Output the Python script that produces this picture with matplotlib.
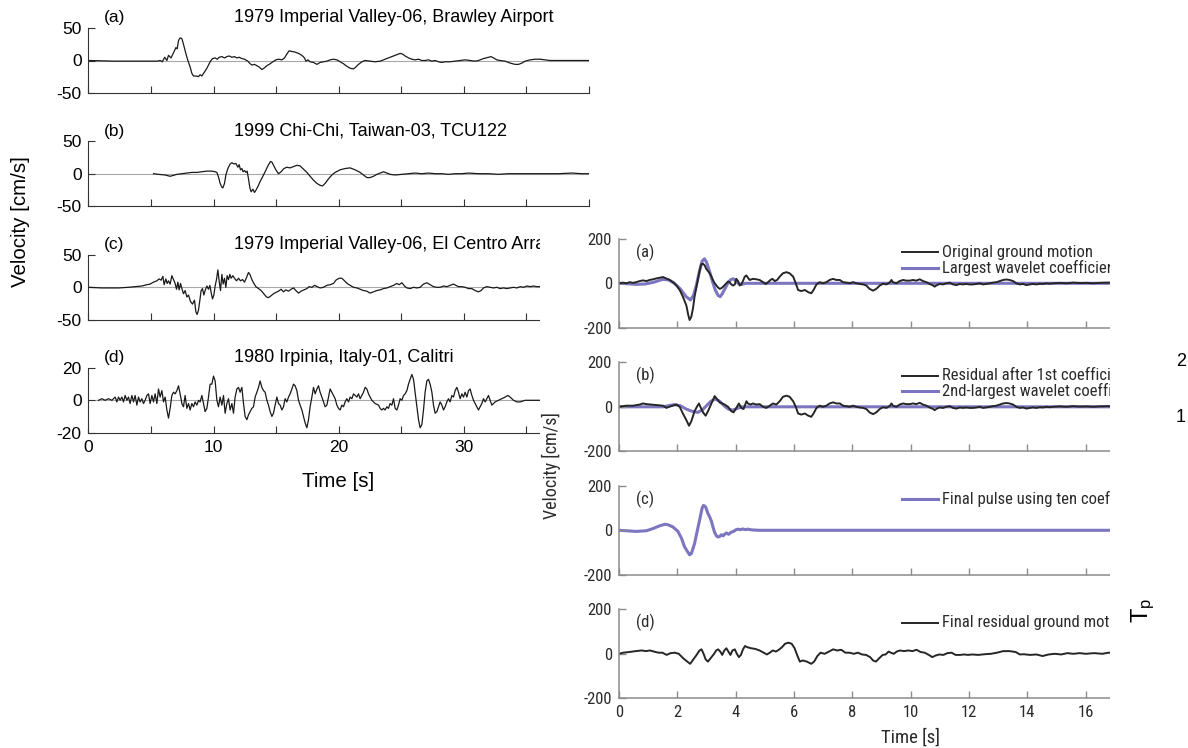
import matplotlib
matplotlib.use("Agg")
import matplotlib.pyplot as plt
from matplotlib import font_manager
from matplotlib.patches import Rectangle
from matplotlib.lines import Line2D

# ---------------------------------------------------------------- data
# Left figure: velocity records (time [s], velocity [cm/s])
brawley_t = [0, 2, 4, 5.5, 5.73, 5.9, 6.1, 6.27, 6.4, 6.6, 6.7, 6.9, 6.99, 7.1, 7.2, 7.33, 7.47, 7.6, 7.8, 7.95,
             8.13, 8.27, 8.4, 8.6, 8.8, 8.93, 9.07, 9.2, 9.47, 9.73, 9.92, 10.13, 10.3, 10.45, 10.67, 10.88, 11.07,
             11.25, 11.47, 11.68, 11.87, 12.05, 12.27, 12.48, 12.75, 12.93, 13.07, 13.28, 13.47, 13.65, 13.87, 14.03,
             14.27, 14.53, 14.75, 14.99, 15.2, 15.47, 15.68, 15.87, 16.05, 16.27, 16.53, 16.8, 17.07, 17.28, 17.39,
             17.55, 17.73, 18, 18.27, 18.53, 18.8, 19.07, 19.33, 19.6, 19.87, 20.13, 20.4, 20.67, 20.93, 21.2, 21.39,
             21.6, 21.87, 22.13, 22.53, 22.93, 23.33, 23.73, 24.13, 24.53, 24.93, 25.12, 25.33, 25.6, 25.87, 26.13,
             26.4, 26.67, 26.93, 27.2, 27.47, 27.73, 28, 28.27, 28.53, 28.93, 29.33, 29.73, 30.13, 30.53, 30.93, 31.2,
             31.6, 32, 32.2, 32.4, 32.67, 32.93, 33.33, 33.73, 34.13, 34.4, 34.67, 34.93, 35.33, 35.73, 36.13, 36.53,
             36.93, 37.33, 40]
brawley_v = [0, -1, -1, -1, 0, -2, 5, 0, 8, 4, 8, 16, 20, 18, 31, 35, 34, 25, 10, 0,
             -10, -20, -24, -24, -25, -22, -24, -20, -12, -2, 3, 4, 2, 5, 6, 4, 6,
             7, 5, 6, 4, 5, 3, 2, -1, -5, -7, -6, -8, -10, -14, -12,
             -8, -5, -2, 1, 2, 1, 4, 10, 15, 14, 13, 11, 8, 4, -1,
             1, -2, -3, -6, -3, -2, -1, 1, 2, 1, -2, -5, -9, -12, -13, -10,
             -6, -2, 0, -1, -2, -1, 2, 5, 8, 11, 10, 7, 4, 2, 1,
             2, 0, 0, 1, -1, 0, -2, -3, -2, -2, -1, 0, 1, 0, -1, 0,
             3, 5, 6, 4, 1, 0, -1, -4, -6, -6, -4, -1, 1, 2, 2, 1,
             0, 0, 0]

chichi_t = [5.2, 5.6, 6.13, 6.53, 6.72, 7.07, 7.47, 7.87, 8.27, 8.67, 9.07, 9.47, 9.87, 10.13, 10.27, 10.4, 10.53,
            10.67, 10.75, 10.88, 10.99, 11.15, 11.33, 11.47, 11.65, 11.79, 11.95, 12.05, 12.16, 12.27, 12.37, 12.48,
            12.59, 12.69, 12.8, 12.91, 13.01, 13.15, 13.28, 13.41, 13.55, 13.73, 13.92, 14.13, 14.35, 14.56, 14.67,
            14.83, 14.99, 15.2, 15.41, 15.63, 15.87, 16.13, 16.4, 16.67, 16.93, 17.2, 17.47, 17.73, 18, 18.27, 18.53,
            18.72, 18.93, 19.2, 19.47, 19.73, 20.13, 20.53, 20.93, 21.33, 21.73, 22, 22.27, 22.53, 22.8, 23.07, 23.33,
            23.6, 23.87, 24.13, 24.53, 25.07, 25.6, 26.13, 26.67, 27.2, 27.73, 28.27, 28.8, 29.33, 29.87, 30.4, 31.2,
            32, 32.8, 33.6, 34.4, 35.47, 36.53, 37.6, 38.67, 39.47, 40]
chichi_v = [0, -1, -2, -4, -3, -1, 0, 1, 2, 2, 3, 4, 4, 3, 2, -5, -15,
            -21, -22, -15, -2, 8, 15, 17, 15, 16, 10, 14, 6, 8, 3, 5,
            2, 4, -8, -22, -28, -24, -29, -25, -20, -12, -5, 3, 12, 19, 18,
            12, 6, 0, 3, 8, 10, 9, 11, 13, 12, 7, 2, -4, -10, -15, -18,
            -19, -15, -8, -2, 2, 6, 8, 9, 6, 2, -2, -6, -6, -4, -1, 1,
            3, 1, -1, -2, -1, 0, 1, 0, 1, 0, 0, -1, 0, 0, 1, 0,
            0, -1, 0, 0, 0, 0, 0, 1, 0, 0]

elcentro_t = [0, 1.07, 2.4, 3.2, 3.73, 4.27, 4.67, 4.93, 5.2, 5.47, 5.65, 5.81, 5.95, 6.05, 6.19, 6.29, 6.4, 6.53,
              6.67, 6.8, 6.93, 7.04, 7.15, 7.25, 7.36, 7.47, 7.6, 7.73, 7.87, 8, 8.16, 8.32, 8.48, 8.59, 8.69, 8.8,
              8.91, 9.01, 9.12, 9.23, 9.33, 9.47, 9.6, 9.71, 9.81, 9.92, 10.03, 10.13, 10.24, 10.35, 10.45, 10.56,
              10.67, 10.77, 10.88, 10.99, 11.09, 11.2, 11.31, 11.41, 11.55, 11.68, 11.84, 12, 12.16, 12.32, 12.48,
              12.64, 12.8, 12.91, 13.07, 13.23, 13.39, 13.6, 13.81, 14.03, 14.24, 14.4, 14.61, 14.8, 14.99, 15.2,
              15.41, 15.6, 15.79, 16, 16.21, 16.4, 16.59, 16.8, 17.01, 17.23, 17.47, 17.65, 17.87, 18.08, 18.29, 18.53,
              18.8, 19.07, 19.33, 19.6, 19.79, 20.05, 20.27, 20.48, 20.69, 20.93, 21.2, 21.47, 21.73, 22, 22.27, 22.53,
              22.8, 23.07, 23.33, 23.6, 23.87, 24.13, 24.4, 24.67, 24.85, 25.07, 25.28, 25.47, 25.73, 26, 26.27, 26.53,
              26.8, 27.07, 27.33, 27.6, 27.87, 28.13, 28.4, 28.67, 28.93, 29.2, 29.39, 29.6, 29.87, 30.13, 30.4, 30.67,
              30.93, 31.2, 31.41, 31.6, 31.87, 32.13, 32.4, 32.67, 32.93, 33.2, 33.47, 33.73, 34, 34.27, 34.53, 34.8,
              35.07, 35.33, 35.6, 35.87, 36.13, 36.53, 37.5]
elcentro_v = [0, -1, -1, 0, 1, 2, 4, 5, 8, 10, 13, 11, 17, 4, 13, 6, 10, 5,
              18, 12, 6, -3, 8, -4, 6, -2, -10, -5, -15, -12, -22, -26, -20, -38, -42, -35,
              -20, -5, -2, -12, -5, 2, -3, 3, -8, -18, -12, 2, 12, 27, 10, -5,
              20, 5, 14, 0, 18, 12, 20, 14, 18, 14, 10, 14, 10, 12, 8,
              15, 23, 20, 12, 6, 1, -2, -5, -10, -15, -16, -13, -10, -8, -6,
              -3, -7, -4, -6, -3, -1, -5, -9, -6, -4, -2, 1, 0, 3, 1, -1,
              0, 3, 4, 6, 11, 14, 14, 10, 6, 3, 0, -1, -3, -5, -6, -9,
              -7, -5, -4, -2, -1, 1, 3, 6, 4, 7, 2, -1, -2, 0, -1, 0,
              5, 7, 4, 1, 0, 0, 2, 1, 3, 5, 3, 1, 1, 0, -2, -2,
              -5, -7, -5, -1, 1, 0, -1, 0, -2, -1, -2, -1, 0, -1, 1, 0,
              2, 1, 2, 1, 1, 1, 1]

calitri_t = [0.8, 1.07, 1.33, 1.6, 1.87, 2.13, 2.27, 2.4, 2.53, 2.67, 2.8, 2.93, 3.07, 3.2, 3.33, 3.47, 3.6, 3.73,
             3.87, 4, 4.13, 4.27, 4.4, 4.53, 4.67, 4.8, 4.93, 5.07, 5.2, 5.33, 5.47, 5.6, 5.73, 5.87, 6, 6.13, 6.27,
             6.4, 6.53, 6.67, 6.8, 6.93, 7.07, 7.2, 7.33, 7.47, 7.6, 7.73, 7.87, 8, 8.13, 8.27, 8.4, 8.53, 8.67, 8.8,
             8.93, 9.07, 9.2, 9.33, 9.47, 9.6, 9.73, 9.87, 10, 10.13, 10.27, 10.4, 10.53, 10.67, 10.8, 10.93, 11.07,
             11.2, 11.33, 11.47, 11.6, 11.73, 11.87, 12, 12.13, 12.27, 12.4, 12.53, 12.67, 12.8, 12.93, 13.07, 13.2,
             13.33, 13.47, 13.6, 13.73, 13.87, 14, 14.13, 14.27, 14.4, 14.53, 14.67, 14.8, 14.93, 15.07, 15.2, 15.33,
             15.47, 15.6, 15.73, 15.87, 16, 16.13, 16.27, 16.4, 16.53, 16.67, 16.8, 16.93, 17.07, 17.2, 17.33, 17.47,
             17.6, 17.73, 17.87, 18, 18.13, 18.27, 18.4, 18.53, 18.67, 18.8, 18.93, 19.07, 19.2, 19.33, 19.47, 19.6,
             19.73, 19.87, 20, 20.13, 20.27, 20.4, 20.53, 20.67, 20.8, 20.93, 21.07, 21.2, 21.33, 21.47, 21.6, 21.73,
             21.87, 22, 22.13, 22.27, 22.4, 22.53, 22.67, 22.93, 23.2, 23.33, 23.47, 23.6, 23.73, 23.87, 24, 24.13,
             24.27, 24.4, 24.53, 24.67, 24.8, 24.93, 25.07, 25.2, 25.33, 25.47, 25.6, 25.73, 25.87, 26, 26.13, 26.27,
             26.4, 26.53, 26.67, 26.8, 26.93, 27.07, 27.2, 27.33, 27.47, 27.6, 27.73, 27.87, 28, 28.13, 28.27, 28.4,
             28.53, 28.67, 28.8, 28.93, 29.07, 29.2, 29.33, 29.47, 29.6, 29.73, 29.87, 30, 30.13, 30.27, 30.4, 30.53,
             30.67, 30.8, 30.93, 31.07, 31.2, 31.33, 31.47, 31.6, 31.73, 31.87, 32, 32.13, 32.27, 32.4, 32.53, 32.8,
             33.07, 33.33, 33.55, 33.73, 34, 34.27, 34.53, 34.93, 35.47, 36.53, 37.5]
calitri_v = [0, 1, 0, 1, 0, 2, -1, 2, 0, 2, -1, 3, 0, 2, -2, 3, -1, 3,
             -3, 2, -1, 1, -2, 0, 3, 4, -2, 3, -1, 4, -2, 7, 2, 6, -1, 2, -6,
             -11, -5, 3, 5, 4, 6, 9, 4, -2, -4, 3, -5, -2, -6, -2, -4, -1, -3, 0,
             -1, 3, -2, -7, -5, 2, 10, 10, 15, 12, 0, -4, 2, -3, 3, -8, -2,
             1, -6, -2, -8, 2, 7, 8, 5, 8, -2, -10, -12, -9, -7, -5, -4,
             2, 5, 8, 12, 8, 6, 5, 0, -3, -7, -10, -8, -3, 2, -2, -3,
             -6, -4, 1, -1, 2, 4, 7, 10, 9, 6, 0, -3, -6, -10, -14, -17,
             -12, -4, 2, 8, 4, 7, 9, 5, 2, -1, -4, -3, 2, 7, 5, 3,
             1, -3, -5, -6, -3, -4, -1, 1, -1, 2, 1, 4, 3, 2, 4, 1,
             3, 5, 8, 7, 4, 2, 0, -2, -3, -5, -6, -5, -6, -4, -5, -2,
             -3, 1, -5, -6, -3, 1, 0, 3, 4, 6, 10, 13, 16, 13, 5, -4,
             -12, -17, -15, -6, 5, 12, 13, 10, 5, -3, -8, -7, -4, -1, -3, -6,
             -4, -1, 1, -1, 3, 2, 6, 8, 5, 1, 4, 2, 5, 2, 6, 7,
             3, 0, -2, -4, -6, -4, -2, 1, -1, 1, 3, 0, -3, -2, -1, 0,
             1, 2, 3, 2, 0, -1, -1, 0, 0, 0, 0]

# Right figure: wavelet pulse extraction (time [s], velocity [cm/s])
orig_t = [0, 0.14, 0.25, 0.37, 0.48, 0.59, 0.71, 0.82, 0.94, 1.05, 1.17, 1.28, 1.39, 1.51, 1.62, 1.74, 1.85, 1.97,
          2.08, 2.19, 2.31, 2.37, 2.42, 2.48, 2.54, 2.59, 2.65, 2.71, 2.77, 2.82, 2.88, 2.94, 2.99, 3.05, 3.11, 3.17,
          3.22, 3.28, 3.34, 3.39, 3.45, 3.51, 3.57, 3.62, 3.68, 3.74, 3.79, 3.85, 3.91, 3.97, 4.02, 4.08, 4.14, 4.19,
          4.25, 4.31, 4.37, 4.42, 4.48, 4.59, 4.71, 4.82, 4.94, 5.03, 5.11, 5.19, 5.26, 5.34, 5.42, 5.51, 5.62, 5.74,
          5.85, 5.97, 6.06, 6.14, 6.25, 6.37, 6.49, 6.59, 6.67, 6.77, 6.88, 6.99, 7.11, 7.22, 7.34, 7.45, 7.57, 7.68,
          7.79, 7.91, 8.02, 8.14, 8.25, 8.37, 8.48, 8.59, 8.71, 8.82, 8.94, 9.05, 9.17, 9.29, 9.34, 9.39, 9.51, 9.62,
          9.74, 9.85, 9.97, 10.08, 10.19, 10.31, 10.42, 10.54, 10.65, 10.77, 10.82, 10.9, 10.99, 11.11, 11.22, 11.34,
          11.45, 11.57, 11.68, 11.79, 11.91, 12.02, 12.14, 12.25, 12.37, 12.48, 12.59, 12.71, 12.82, 12.94, 13.05,
          13.17, 13.28, 13.39, 13.51, 13.62, 13.74, 13.85, 13.97, 14.08, 14.19, 14.31, 14.42, 14.54, 14.65, 14.77,
          14.88, 15.11, 15.34, 15.57, 15.8, 16.03, 16.26, 16.49, 16.8, 17.2]
orig_v = [0, 3, 0, 5, 2, 5, 10, 13, 10, 15, 18, 22, 25, 28, 22, 15, 5, -10,
          -30, -60, -100, -140, -165, -150, -110, -60, -20, 20, 60, 85, 88, 80, 65, 55, 45, 30,
          15, 0, -10, -18, -25, -22, -15, -8, 0, 8, 5, -5, -10, -5, 20, 10, -10, -5,
          10, 30, 35, 25, 15, 20, 18, 15, 5, -3, 5, 15, 20, 10, 15, 30, 45, 50,
          45, 30, 0, -30, -35, -30, -40, -45, -30, -5, 5, 0, 5, 15, 20, 15, 15, 5,
          3, 0, 5, 0, -3, -5, -10, -25, -33, -25, -10, -2, -5, 5, 15, 5, 0, 10,
          15, 12, 12, 15, 12, 18, 10, 5, -3, -10, -15, -8, -3, -5, 0, 3,
          -5, -8, -3, -5, -3, -5, -5, -3, 0, -5, -3, 0, 3, 5, 10,
          15, 17, 15, 10, 0, -5, -3, -8, -5, -3, -5, -2, -3, 0, -2,
          0, 2, 0, 3, 1, 2, 0, 2, 3, 0]

coef1_t = [0, 0.3, 0.6, 0.9, 1.2, 1.5, 1.7, 1.9, 2.1, 2.3, 2.45, 2.55, 2.65, 2.75, 2.85, 2.93, 3.0, 3.1, 3.2, 3.3,
           3.4, 3.47, 3.55, 3.65, 3.75, 3.85, 3.92, 4.0, 4.1, 4.2, 4.35, 20]
coef1_v = [0, -2, -5, -3, 5, 18, 15, 0, -25, -60, -75, -55, -10, 50, 100, 110, 95, 55, 10, -30,
           -55, -60, -45, -20, 5, 18, 20, 12, -2, -5, 0, 0]

resid1_t = [0, 0.25, 0.48, 0.71, 0.82, 0.94, 1.11, 1.28, 1.51, 1.62, 1.79, 1.97, 2.08, 2.19, 2.31, 2.4, 2.48, 2.59,
            2.67, 2.74, 2.79, 2.88, 2.97, 3.05, 3.17, 3.28, 3.36, 3.45, 3.54, 3.62, 3.74, 3.85, 3.93, 4.02, 4.11,
            4.19, 4.27, 4.37, 4.42, 4.5, 4.59, 4.71, 4.82, 4.94, 5.05, 5.17, 5.28, 5.39, 5.51, 5.62, 5.74, 5.85,
            5.97, 6.06, 6.14, 6.25, 6.37, 6.49, 6.59, 6.67, 6.77, 6.88, 6.99, 7.11, 7.22, 7.34, 7.45, 7.57, 7.68,
            7.79, 7.91, 8.02, 8.14, 8.25, 8.37, 8.48, 8.59, 8.71, 8.82, 8.94, 9.05, 9.17, 9.29, 9.34, 9.39, 9.51,
            9.62, 9.74, 9.85, 9.97, 10.08, 10.19, 10.31, 10.42, 10.54, 10.65, 10.77, 10.82, 10.9, 10.99, 11.11,
            11.22, 11.34, 11.45, 11.57, 11.68, 11.79, 11.91, 12.02, 12.14, 12.25, 12.37, 12.48, 12.59, 12.71, 12.82,
            12.94, 13.05, 13.17, 13.28, 13.39, 13.51, 13.62, 13.74, 13.85, 13.97, 14.08, 14.19, 14.31, 14.42, 14.54,
            14.65, 14.77, 14.88, 15.11, 15.34, 15.57, 15.8, 16.03, 16.26, 16.49, 16.8, 17.2]
resid1_v = [0, 5, 5, 10, 15, 12, 10, 8, 5, -5, 3, 10, 0, -30, -60, -85, -65, -20,
            0, 15, 0, -25, -40, -20, 15, 48, 35, 20, 15, 10, 0, -20, -25, -5, 15,
            -5, -10, 25, 15, 10, 15, 10, 12, 0, -5, 5, 15, 10, 25, 45, 50, 45,
            25, 0, -30, -35, -30, -40, -45, -30, -5, 5, 0, 5, 15, 20, 15, 15, 5,
            3, 0, 5, 0, -3, -5, -10, -25, -33, -25, -10, -2, -5, 5, 15, 5, 0,
            10, 15, 12, 12, 15, 12, 18, 10, 5, -3, -10, -15, -8, -3, -5,
            0, 3, -5, -8, -3, -5, -3, -5, -5, -3, 0, -5, -3, 0, 3,
            5, 10, 15, 17, 15, 10, 0, -5, -3, -8, -5, -3, -5, -2, -3,
            0, -2, 0, 2, 0, 3, 1, 2, 0, 2, 3, 0]

coef2_t = [0, 1.5, 1.9, 2.1, 2.3, 2.5, 2.7, 2.85, 3.0, 3.15, 3.3, 3.45, 3.6, 3.75, 3.9, 4.05, 4.2, 20]
coef2_v = [0, 0, 10, 5, -10, -20, -25, -15, 5, 25, 35, 25, 5, -10, -15, -8, 0, 0]

pulse_t = [0, 0.25, 0.59, 0.94, 1.17, 1.39, 1.57, 1.68, 1.85, 2.02, 2.14, 2.25, 2.37, 2.42, 2.48, 2.59, 2.67, 2.77,
           2.85, 2.9, 2.97, 3.05, 3.11, 3.17, 3.22, 3.28, 3.34, 3.39, 3.45, 3.51, 3.57, 3.62, 3.68, 3.76, 3.85, 3.93,
           4.0, 4.08, 4.16, 4.25, 4.33, 4.42, 4.54, 4.65, 4.82, 20]
pulse_v = [0, -2, -5, -2, 8, 20, 27, 25, 15, -5, -35, -75, -100, -110, -105, -60, -10, 50,
           100, 112, 105, 75, 60, 40, 15, -10, -25, -30, -28, -20, -25, -18, -12, -18, -8, -5,
           2, 5, 3, 6, 3, 5, 2, 1, 0, 0]

final_t = [0, 0.14, 0.35, 0.57, 0.78, 0.92, 1.06, 1.2, 1.35, 1.49, 1.63, 1.77, 1.91, 2.05, 2.2, 2.34, 2.44, 2.55,
           2.66, 2.76, 2.83, 2.9, 2.97, 3.05, 3.14, 3.26, 3.33, 3.4, 3.47, 3.54, 3.61, 3.68, 3.75, 3.82, 3.89, 3.97,
           4.04, 4.11, 4.18, 4.25, 4.32, 4.39, 4.53, 4.67, 4.82, 4.96, 5.07, 5.17, 5.27, 5.38, 5.5, 5.59, 5.69,
           5.81, 5.92, 6.02, 6.12, 6.2, 6.3, 6.44, 6.59, 6.69, 6.8, 6.91, 7.05, 7.2, 7.34, 7.48, 7.62, 7.76, 7.9,
           8.05, 8.19, 8.33, 8.47, 8.61, 8.71, 8.81, 8.92, 9.04, 9.14, 9.24, 9.32, 9.42, 9.52, 9.63, 9.77, 9.92,
           10.06, 10.2, 10.34, 10.48, 10.62, 10.74, 10.85, 10.98, 11.12, 11.26, 11.4, 11.54, 11.69, 11.83, 11.97,
           12.11, 12.32, 12.53, 12.75, 12.96, 13.17, 13.39, 13.6, 13.74, 13.88, 14.09, 14.31, 14.52, 14.73, 14.94,
           15.16, 15.37, 15.58, 15.79, 16, 16.29, 16.57, 16.78, 17.2]
final_v = [0, 5, 8, 12, 15, 12, 15, 10, 5, 5, -5, 3, 5, 0, -20, -35, -45, -25,
           -5, 15, 20, 0, -25, -35, -20, 0, 15, 20, 10, -5, 15, 25, 10, -5, 15, 20,
           0, -15, -5, 20, 35, 30, 25, 22, 15, 5, -3, 5, 15, 10, 20, 30, 45,
           50, 45, 25, -10, -35, -30, -35, -45, -35, -10, 5, 0, 10, 20, 15, 18, 5, 5,
           0, 5, -3, -5, -15, -30, -35, -20, -5, -3, 10, 5, 0, 10, 15, 12, 15,
           12, 18, 8, 5, -5, -15, -8, -3, -5, 3, 5, -5, -5, -3,
           -5, -3, -5, -2, 0, 5, 12, 12, 8, -3, -2, -5, -3, -10, -3, 0,
           -3, 3, 0, 3, 0, 3, 0, 5, 2]

# ---------------------------------------------------------------- layout
W, H = 1188, 748
fig = plt.figure(figsize=(W / 100, H / 100), dpi=100)

installed = {f.name for f in font_manager.fontManager.ttflist}
SANS = "Liberation Sans" if "Liberation Sans" in installed else "DejaVu Sans"
NARROW = next((n for n in ["Liberation Sans Narrow", "Roboto Condensed", "Roboto"] if n in installed), SANS)
plt.rcParams["font.family"] = [SANS, "DejaVu Sans"]


def px_axes(x0, y0, x1, y1, z):
    """Axes placed by pixel box (left, top, right, bottom)."""
    return fig.add_axes([x0 / W, 1 - y1 / H, (x1 - x0) / W, (y1 - y0) / H], zorder=z)


def px_text(x, y, s, **kw):
    return fig.text(x / W, 1 - y / H, s, **kw)


# ---------------------------------------------------------------- left figure
LX0, LX1, LH = 88.5, 588.5, 64.6
left_bottoms = [92.8, 206.0, 319.6, 432.6]
left_panels = [
    ("(a)", "1979 Imperial Valley-06, Brawley Airport", brawley_t, brawley_v, 50),
    ("(b)", "1999 Chi-Chi, Taiwan-03, TCU122", chichi_t, chichi_v, 50),
    ("(c)", "1979 Imperial Valley-06, El Centro Array", elcentro_t, elcentro_v, 50),
    ("(d)", "1980 Irpinia, Italy-01, Calitri", calitri_t, calitri_v, 20),
]
LFS = 12.5
for i, (tag, name, t, v, lim) in enumerate(left_panels):
    bot = left_bottoms[i]
    ax = px_axes(LX0, bot - LH, LX1, bot, 1)
    ax.set_xlim(0, 40)
    ax.set_ylim(-lim, lim)
    ax.axhline(0, color="#a8a8a8", lw=0.8, zorder=1)
    ax.plot(t, v, color="#1a1a1a", lw=0.9, zorder=2)
    for s in ("top", "right"):
        ax.spines[s].set_visible(False)
    for s in ("left", "bottom"):
        ax.spines[s].set_color("#333333")
        ax.spines[s].set_linewidth(0.8)
    ax.set_xticks([0, 10, 20, 30, 40])
    ax.set_xticks([5, 15, 25, 35], minor=True)
    ax.set_yticks([-lim, 0, lim])
    ax.set_yticklabels([f"-{lim}", "0", f"{lim}"])
    ax.tick_params(which="both", direction="in", length=5, width=0.8, color="#333333",
                   labelsize=LFS, pad=5)
    if i == len(left_panels) - 1:
        ax.set_xticklabels(["0", "10", "20", "30", ""])
    else:
        ax.set_xticklabels([])
    ax.text(0.03, 1.16, tag, transform=ax.transAxes, fontsize=LFS, ha="left", va="center")
    ax.text(0.291, 1.16, name, transform=ax.transAxes, fontsize=13, ha="left", va="center")

px_text(21, 222, "Velocity [cm/s]", rotation=90, fontsize=14.8, ha="center", va="center")
px_text((LX0 + LX1) / 2, 481.7, "Time [s]", fontsize=14.8, ha="center", va="center")

# ---------------------------------------------------------------- right figure
fig.add_artist(Rectangle((540 / W, 0), (1110 - 540) / W, 1 - 228 / H, transform=fig.transFigure,
                         facecolor="white", edgecolor="none", zorder=2))

RX0, RPX, RHALF = 619.0, 29.17, 44.5
RX1 = RX0 + 20 * RPX
right_zero = [283.3, 406.8, 530.3, 653.8]
PURPLE, BLACK, GREY = "#7b76bf", "#262626", "#8c8c8c"
right_panels = [
    ("(a)", [(orig_t, orig_v, BLACK, "Original ground motion"),
             (coef1_t, coef1_v, PURPLE, "Largest wavelet coefficient")]),
    ("(b)", [(resid1_t, resid1_v, BLACK, "Residual after 1st coefficient"),
             (coef2_t, coef2_v, PURPLE, "2nd-largest wavelet coefficient")]),
    ("(c)", [(pulse_t, pulse_v, PURPLE, "Final pulse using ten coefficients")]),
    ("(d)", [(final_t, final_v, BLACK, "Final residual ground motion")]),
]
LW = {BLACK: 1.4, PURPLE: 2.2}
RFS = 12
for i, (tag, series) in enumerate(right_panels):
    z0 = right_zero[i]
    ax = px_axes(RX0, z0 - RHALF, RX1, z0 + RHALF, 3)
    ax.set_facecolor("none")
    ax.set_xlim(0, 20)
    ax.set_ylim(-200, 200)
    # purple wavelet first, black record drawn over it
    for t, v, c, lab in sorted(series, key=lambda s: s[2] == BLACK):
        ax.plot(t, v, color=c, lw=LW[c], solid_joinstyle="round", zorder=2 if c == BLACK else 1.5)
    for s in ("top", "right"):
        ax.spines[s].set_visible(False)
    for s in ("left", "bottom"):
        ax.spines[s].set_color(GREY)
        ax.spines[s].set_linewidth(1.1)
    ax.set_xticks(range(0, 21, 2))
    ax.set_yticks([-200, 0, 200])
    ax.set_yticklabels(["-200", "0", "200"])
    ax.tick_params(direction="in", length=5, width=1.0, color=GREY, labelsize=RFS, pad=5,
                   labelcolor="#2b2b2b", labelfontfamily=NARROW)
    if i == len(right_panels) - 1:
        ax.set_xticklabels([str(k) if k <= 16 else "" for k in range(0, 21, 2)])
    else:
        ax.set_xticklabels([])

    px_text(636, z0 - 31, tag, fontsize=RFS, family=NARROW, color="#2b2b2b",
            ha="left", va="center", zorder=3.5)
    for k, (t, v, c, lab) in enumerate(series):
        yk = z0 - 31 + 15.5 * k
        fig.add_artist(Line2D([901.5 / W, 938 / W], [1 - yk / H] * 2, transform=fig.transFigure,
                              color=c, lw=LW[c], zorder=3.5))
        px_text(942, yk, lab, fontsize=12, family=NARROW, color="#2b2b2b",
                ha="left", va="center", zorder=3.5)

px_text(551, 466, "Velocity [cm/s]", rotation=90, fontsize=13, family=NARROW, color="#2b2b2b",
        ha="center", va="center", zorder=3.5)
px_text(RX0 + 10 * RPX, 738, "Time [s]", fontsize=13.5, family=NARROW, color="#2b2b2b",
        ha="center", va="center", zorder=3.5)

# ---------------------------------------------------------------- right-hand strip
fig.add_artist(Rectangle((1110 / W, 0), (W - 1110) / W, 1 - 228 / H, transform=fig.transFigure,
                         facecolor="white", edgecolor="none", zorder=4))
px_text(1176, 362, "2", fontsize=13, ha="left", va="center", zorder=5)
px_text(1176, 418, "1", fontsize=13, ha="left", va="center", zorder=5)
plt.rcParams["mathtext.fontset"] = "custom"
plt.rcParams["mathtext.rm"] = SANS
px_text(1143, 610, r"$\mathregular{T_p}$", fontsize=17, rotation=90, ha="center", va="center", zorder=5)

fig.savefig("out.png", dpi=100, facecolor="white")
